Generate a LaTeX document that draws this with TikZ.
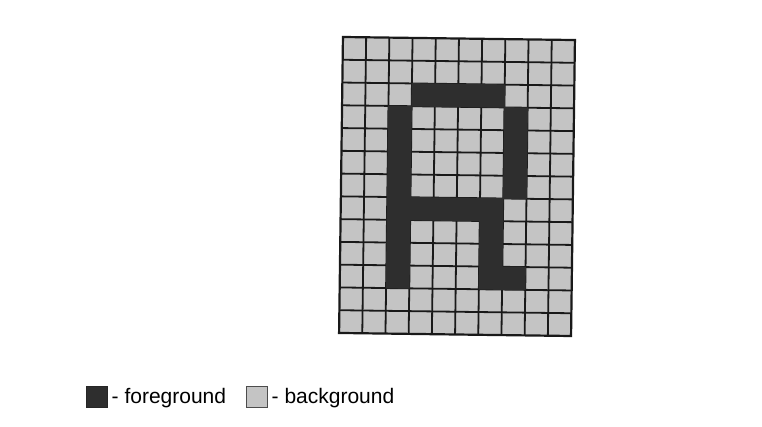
\documentclass[tikz,border=0pt]{standalone}
\usepackage{fontspec}
\setmainfont{Liberation Sans}
\definecolor{fgcol}{HTML}{2E2E2E}
\definecolor{bgcol}{HTML}{C4C4C4}
\begin{document}
\begin{tikzpicture}[x=1pt,y=-1pt,
  gridline/.style={line width=1.8pt,draw=black!90},
  border/.style={line width=2.2pt,draw=black!90},
  darkcell/.style={fill=fgcol},
  keybox/.style={minimum size=21pt,inner sep=0pt,line width=1pt},
  keytext/.style={anchor=base west,inner sep=0pt,font=\fontsize{21}{24}\selectfont}]
\useasboundingbox (0,0) rectangle (762,427);
\fill[white] (0,0) rectangle (762,427);
\def\cw{23.2}
\def\ch{22.77}
\begin{scope}[shift={(457,186.5)},rotate=-0.75]
  \fill[bgcol] (-116,-148) rectangle (116,148);
  \foreach \i in {1,...,9} \draw[gridline] ({-116+\cw*\i},-148) -- ++(0,296);
  \foreach \j in {1,...,12} \draw[gridline] (-116,{-148+\ch*\j}) -- ++(232,0);
  % dark cells (col,row)
  \foreach \c/\r in {3/2,4/2,5/2,6/2,
    2/3,7/3,2/4,7/4,2/5,7/5,2/6,7/6,
    2/7,3/7,4/7,5/7,6/7,
    2/8,6/8,2/9,6/9,
    2/10,6/10,7/10}
    \fill[darkcell] ({-116+\cw*\c-0.3},{-148+\ch*\r-0.3}) rectangle ++({\cw+0.6},{\ch+0.6});
  \draw[border] (-116,-148) rectangle (116,148);
\end{scope}
\node[keybox,fill=fgcol,draw=black!85] (fgkey) at (96.5,396.5) {};
\node[keytext] (fglabel) at (111.5,403.5) {- foreground};
\node[keybox,fill=bgcol,draw=black!70] (bgkey) at (257,396.5) {};
\node[keytext] (bglabel) at (271.5,403.5) {- background};
\end{tikzpicture}
\end{document}
